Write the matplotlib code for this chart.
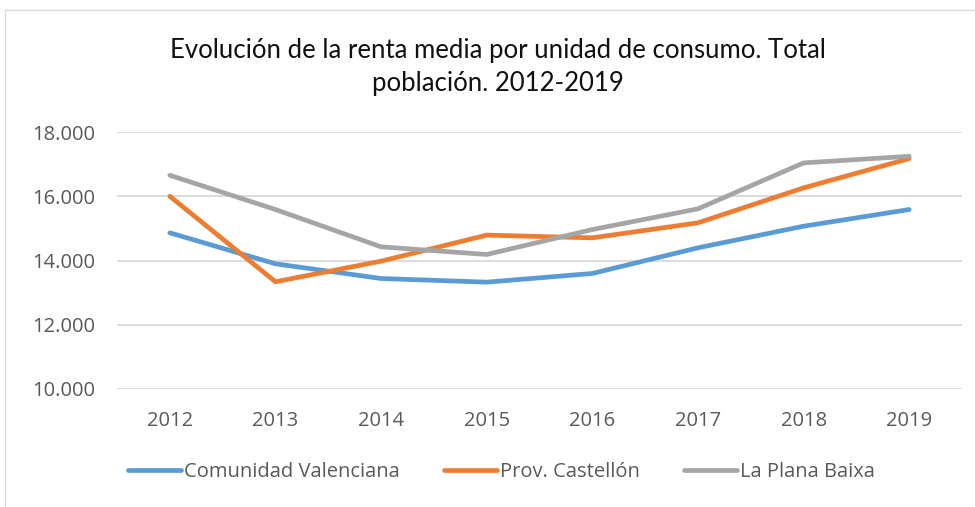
import matplotlib
matplotlib.use("Agg")
import matplotlib.pyplot as plt
from matplotlib.ticker import FuncFormatter
from matplotlib.lines import Line2D

years = ["2012", "2013", "2014", "2015", "2016", "2017", "2018", "2019"]
comunidad_valenciana = [14862, 13897, 13440, 13326, 13596, 14395, 15067, 15587]
prov_castellon = [16000, 13338, 13980, 14790, 14705, 15173, 16261, 17172]
la_plana_baixa = [16653, 15587, 14426, 14187, 14963, 15608, 17038, 17244]
series_names = ["Comunidad Valenciana", "Prov. Castellón", "La Plana Baixa"]
title = "Evolución de la renta media por unidad de consumo. Total\npoblación. 2012-2019"

colors = ["#5B9BD5", "#ED7D31", "#A5A5A5"]
body_font = ["Open Sans", "DejaVu Sans"]
title_font = ["Lato", "DejaVu Sans"]
plt.rcParams["font.family"] = body_font

W, H = 975, 507
fig = plt.figure(figsize=(W / 100, H / 100), dpi=100)
ax = fig.add_axes([117 / W, 1 - 389 / H, (962 - 117) / W, (389 - 132) / H])

x = list(range(len(years)))
for vals, c, name in zip([comunidad_valenciana, prov_castellon, la_plana_baixa], colors, series_names):
    ax.plot(x, vals, color=c, lw=3.4, solid_capstyle="round", solid_joinstyle="round", label=name, zorder=3)

ax.set_xlim(-0.5, len(years) - 0.5)
ax.set_ylim(10000, 18000)
ax.set_yticks([10000, 12000, 14000, 16000, 18000])
ax.yaxis.set_major_formatter(FuncFormatter(lambda v, p: f"{int(v):,}".replace(",", ".")))
ax.set_xticks(x)
ax.set_xticklabels(years)
ax.grid(axis="y", color="#D9D9D9", lw=1.3, zorder=0)
for s in ax.spines.values():
    s.set_visible(False)
ax.tick_params(axis="both", length=0, labelsize=14.5, labelcolor="#595959")
ax.tick_params(axis="x", pad=16)
ax.tick_params(axis="y", pad=16)

fig.text(0.511, 1 - 67 / H, title, ha="center", va="center", fontsize=18.5, color="#111111",
         linespacing=1.4, family=title_font)

handles = [Line2D([0], [0], color=c, lw=3.4, solid_capstyle="round") for c in colors]
fig.legend(handles, series_names, loc="center", bbox_to_anchor=(0.514, 1 - 472 / H), ncol=3, frameon=False,
           fontsize=14.5, labelcolor="#595959", handlelength=2.65, handletextpad=0.12, columnspacing=2.2)

# chart area border (top and left)
fig.add_artist(Line2D([5 / W, 1], [1 - 10 / H, 1 - 10 / H], color="#D9D9D9", lw=1, transform=fig.transFigure))
fig.add_artist(Line2D([5 / W, 5 / W], [0, 1 - 10 / H], color="#D9D9D9", lw=1, transform=fig.transFigure))

fig.savefig("out.png", dpi=100)
